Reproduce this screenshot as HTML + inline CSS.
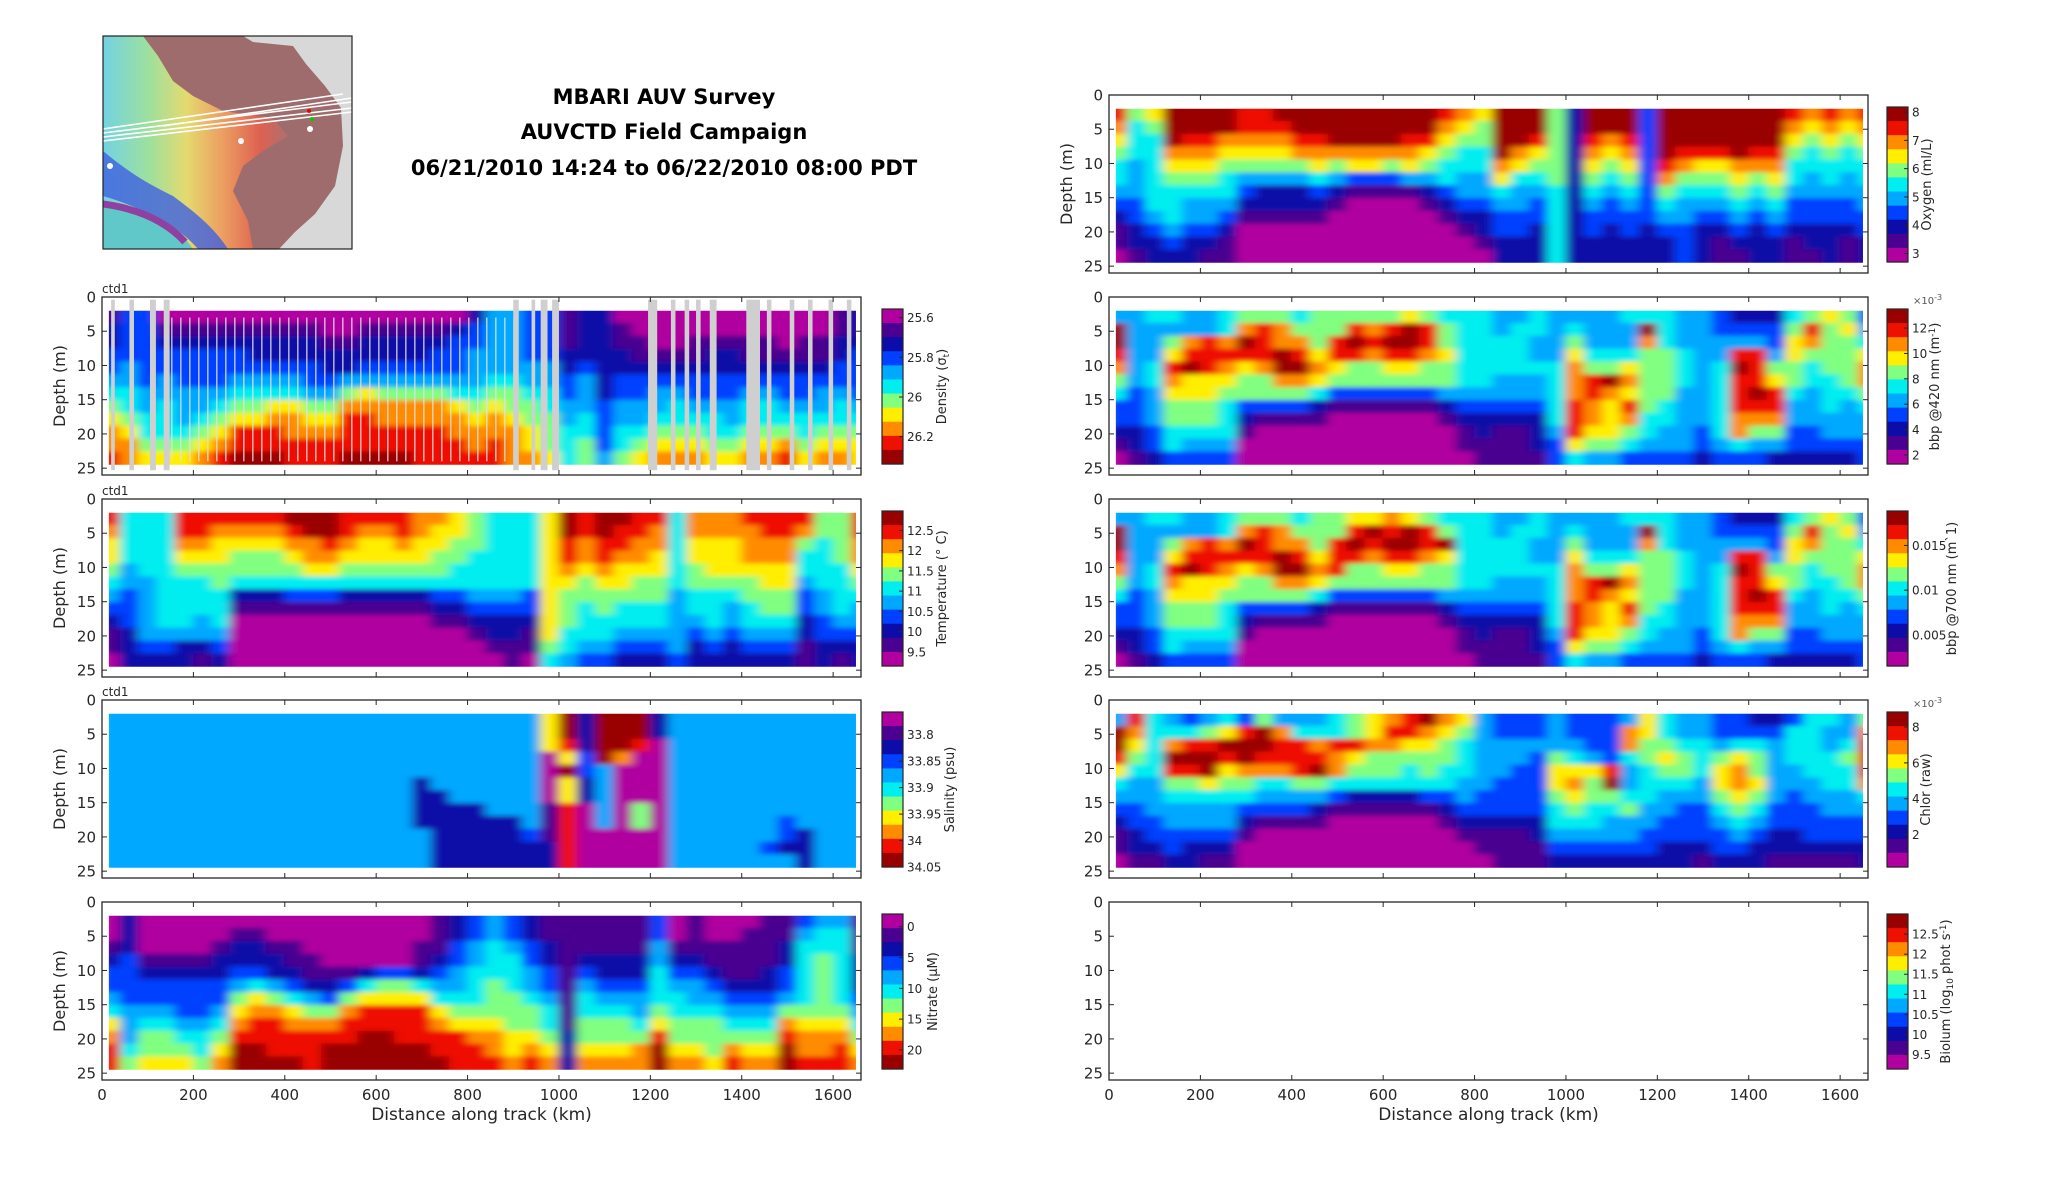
<!DOCTYPE html>
<html><head><meta charset="utf-8">
<style>
html,body{margin:0;padding:0;background:#fff;}
svg{display:block;font-family:"DejaVu Sans","Liberation Sans",sans-serif;}
</style></head>
<body>
<svg id="fig" xmlns="http://www.w3.org/2000/svg" width="2052" height="1188" viewBox="0 0 2052 1188">
  <defs>
    <linearGradient id="bathy" x1="0" y1="0" x2="1" y2="0">
      <stop offset="0" stop-color="#70d8e8"/><stop offset="0.25" stop-color="#9ee6a0"/>
      <stop offset="0.45" stop-color="#e8e070"/><stop offset="0.65" stop-color="#f0a060"/>
      <stop offset="0.85" stop-color="#e06050"/><stop offset="1" stop-color="#b07070"/>
    </linearGradient>
    <filter id="soft" x="-5%" y="-5%" width="110%" height="110%"><feGaussianBlur stdDeviation="5 2.5"/></filter>
    <pattern id="speck" width="9" height="6" patternUnits="userSpaceOnUse"><rect x="0" y="0" width="1.6" height="6" fill="#e0e0e0"/></pattern>
  </defs>
  <g>
    <svg x="103" y="36" width="249" height="213" viewBox="0 0 249 213">
      <rect width="249" height="213" fill="#d8d8d8"/>
      <path d="M0,0 L140,0 L150,6 L190,10 L203,28 L222,50 L238,72 L240,110 L232,150 L212,178 L192,196 L176,213 L0,213 Z" fill="#9e6c6c"/>
      <path d="M0,0 L40,0 L55,20 L70,45 L90,60 L120,75 L170,82 L185,100 L160,115 L140,130 L130,155 L145,185 L150,213 L0,213 Z" fill="url(#bathy)" opacity="0.95"/>
      <path d="M0,115 C30,140 50,150 70,160 C90,175 110,190 125,213 L95,213 C80,195 50,175 0,160 Z" fill="#4060e0" opacity="0.8"/>
      <path d="M0,165 C30,170 60,180 80,200 L90,213 L0,213 Z" fill="#60c8c8"/>
      <path d="M0,168 C30,172 60,182 82,206" stroke="#9040a0" stroke-width="7" fill="none"/>
      <g stroke="#fff" stroke-width="1.6" fill="none">
        <path d="M0,93 L240,58"/><path d="M0,97 L249,66"/><path d="M0,101 L249,72"/><path d="M0,105 L249,76"/><path d="M60,90 L249,62"/>
      </g>
      <circle cx="207" cy="93" r="3" fill="#fff"/><circle cx="138" cy="105" r="3" fill="#fff"/><circle cx="7" cy="130" r="3" fill="#fff"/>
      <circle cx="206" cy="75" r="2" fill="#e00"/><circle cx="209" cy="83" r="2" fill="#0c0"/>
    </svg>
    <rect x="103" y="36" width="249" height="213" fill="none" stroke="#222" stroke-width="1.2"/>
  </g>
  <g font-weight="bold" font-size="21" text-anchor="middle" fill="#000">
    <text x="664" y="104">MBARI AUV Survey</text>
    <text x="664" y="139">AUVCTD Field Campaign</text>
    <text x="664" y="175">06/21/2010 14:24 to 06/22/2010 08:00 PDT</text>
  </g>
  <g id="panels"></g>
</svg>
<script>
// ---- data (color levels 0..a per depth row, 40 km bins) ----
const binKm = 40;
const depthTop = 2;
const depthStep = 1.875;
const xTicks = [0,200,400,600,800,1000,1200,1400,1600];
const yTicks = [0,5,10,15,20,25];

const densityRows = [
"1330000000 0000000000 2443312200 0000000000 12",
"2331111111 1100111112 3443312210 0000000000 12",
"2332222222 2211222223 3443312211 0011111011 22",
"3333333322 2222222233 4443322221 1112211111 23",
"3433333333 3322333333 4444423222 2222222222 33",
"4434333444 4334444444 4554434233 3333333333 33",
"5544444555 5446766665 5665534233 4433344334 43",
"6545445667 7668888887 6766544344 4544455444 54",
"7655456778 8779988888 7876645344 5555455555 55",
"8755567999 8889999998 8887655355 6665566656 66",
"8866678999 9999999999 8987656356 7776677867 77",
"9877789aaa 999aaaa999 9988756467 8887788978 87"];
const grayStartKm = [20,60,105,135,900,940,960,985,1195,1245,1275,1300,1330,1410,1455,1505,1545,1590,1630];
const grayEndKm   = [28,70,118,148,912,948,975,1000,1215,1255,1285,1310,1345,1440,1465,1515,1555,1600,1640];

const temperatureRows = [
"9555999999 aaa9999887 65557a9aa9 9588899996 69",
"8555998888 9aa9889877 65557a9a99 8588889986 69",
"7555887777 8898778776 6555798998 8577788865 68",
"7555777666 7887777766 5555798988 7577788855 68",
"6455666666 6776666665 5555787877 7567777755 57",
"5445556555 5555555555 5555776776 6566667745 56",
"4345555222 3332222233 4443766666 6455566634 55",
"3345555111 1111111122 3333765655 5455456634 54",
"2345545000 0000000011 2222765555 5445455523 44",
"1244444000 0000000000 1221755544 4434344423 33",
"1233223000 0000000000 0111654433 3423233312 22",
"0222212000 0000000000 0010543322 2322222212 12"];

const salinityRows = [
"4444444444 4444444444 44447a2aaa 2444444444 44",
"4444444444 4444444444 44447a2aaa 2444444444 44",
"4444444444 4444444444 4444792aa9 0444444444 44",
"4444444444 4444444444 4444073a80 0444444444 44",
"4444444444 4444444444 44440a3400 0444444444 44",
"4444444444 4444444244 4444072400 0444444444 44",
"4444444444 4444444224 4444072400 0444444444 44",
"4444444444 4444444222 2444190406 0444444444 44",
"4444444444 4444444222 2224190406 0444444344 44",
"4444444444 4444444422 2223190000 0444444324 44",
"4444444444 4444444422 2222290000 0444443224 44",
"4444444444 4444444422 2222290000 0444444424 44"];

const nitrateRows = [
"0200000000 0000000012 3432111111 3010001134 41",
"0200000110 0000000012 3432111111 3010011145 51",
"1200001221 1000000113 4543211111 4111111255 51",
"2311112222 1100000123 4553212222 4221111256 52",
"3322222332 2111233234 5554313222 5332112356 52",
"3333333454 3223566544 5654314333 5443222356 52",
"4333333676 5436777755 5665415444 5544333456 53",
"5444334788 7668999976 6666515554 6555444666 64",
"7455445899 8889999987 7766516665 7666555877 75",
"8466556999 9999aa9999 8877626666 9666666988 86",
"9566657aa9 99aaaaaa99 9878727778 a776877a88 97",
"9677768aaa a9aaaaaaa9 9989828888 a887988a99 98"];

const oxygenRows = [
"967aaaa99a aaaaaaaa98 7aaa62aaa3 aaaaaaa989 89",
"856aaaa999 aaaaaaaa87 6aaa62aaa3 aaaaaaa878 78",
"755a998888 99aaaa9976 6aa9629893 aaaaaaa767 67",
"6558887777 8888888765 5a87628783 a999a99656 56",
"5457776666 6767767655 5876627673 9877888555 55",
"5456665444 4543334454 4755626563 8666767545 45",
"4455555322 2321111234 4544525453 6555656444 44",
"3355444222 2210000123 3443524343 5444545333 34",
"2345443111 1100000012 2333523333 4433434333 33",
"1234332000 0000000001 2332523232 3322323222 23",
"1223221000 0000000000 1222522222 2321222122 12",
"0122211000 0000000000 0222522222 2321122112 12"];

const bbp420Rows = [
"4455445666 5666667655 5445444455 5443222567 63",
"a444445898 666989a965 545545444a 5443333696 74",
"a44689 8a98 869a9aa965 5554464448 5444443786 65",
"944799999a 9799899875 5554475556 6544994766 67",
"8459a9878a a876677665 5555586676 6545a96656 68",
"6458777668 8766666665 5444589a86 6545997655 68",
"5347776666 6533333344 4444589876 64459a9545 56",
"3346665333 3211111123 3333598796 5445999445 45",
"3346665211 1100000012 2222598785 5445888444 44",
"2235555100 0000000001 2112497765 4435866334 44",
"1235444000 0000000001 1112376654 4434544333 33",
"0123333000 0000000000 1111354433 3323332222 23"];

const bbp700Rows = [
"4455445666 5667787655 5445444455 5443222567 63",
"a444445898 6669a9a965 545545444a 5443333696 74",
"a44689 8a98 869a9aa9a5 5554464448 5444443786 65",
"944799999a 9799899875 5554475556 6544994766 67",
"8459a9878a a896677665 5555586676 6545a96656 68",
"6458777668 8766666665 5444589a86 6545997655 68",
"5347776666 6533333344 4444589876 64459a9545 56",
"3346665333 3211111123 3333598796 5445999445 45",
"3346665211 1100000012 2222598785 5445888444 44",
"2235555100 0000000001 2112497765 4435866334 44",
"1235444000 0000000001 1112376654 4434544333 33",
"0123333000 0000000000 1111354433 3323332222 23"];

const chlorRows = [
"4954345364 4456789a87 4333433347 5443322355 46",
"a8555679a8 5556799876 4333433387 5443333554 48",
"a75899aaa9 9899887765 4444443386 6554554554 59",
"965aaa9a99 9987666665 4443654356 7656764555 69",
"75599a7888 9a86665655 4433777945 6657864455 59",
"5446676655 6655555554 4333786a45 5547874445 58",
"4445555544 4432222334 3333676655 4446764344 45",
"3344444333 3211111123 3333565564 4335653334 44",
"2334444211 1100000012 2222555444 3334543333 33",
"1233333100 0000000001 1112444443 3333432233 33",
"1223222000 0000000000 1111333333 2223322222 22",
"0112211000 0000000000 0111222222 2212221111 12"];

// colorbar ranges and ticks
const densityRange = [25.556, 26.338];   const densityTicks = [25.6,25.8,26,26.2];
const temperatureRange = [12.98, 9.15];  const temperatureTicks = [12.5,12,11.5,11,10.5,10,9.5];
const salinityRange = [33.757, 34.05];   const salinityTicks = [33.8,33.85,33.9,33.95,34,34.05];
const nitrateRange = [-2.07, 23.1];      const nitrateTicks = [0,5,10,15,20];
const oxygenRange = [8.18, 2.70];        const oxygenTicks = [8,7,6,5,4,3];
const bbp420Range = [13.5, 1.29];        const bbp420Ticks = [12,10,8,6,4,2];
const bbp700Range = [0.01885, 0.00152];  const bbp700Ticks = [0.015,0.01,0.005];
const chlorRange = [8.84, 0.19];         const chlorTicks = [8,6,4,2];
const biolumRange = [13.0, 9.14];        const biolumTicks = [12.5,12,11.5,11,10.5,10,9.5];

const palette = ['#b0009f','#4a0090','#0c0ca8','#0040ff','#00a8ff','#00eef0','#80ff80','#ffee00','#ff8c00','#ee1000','#990000'];
const KM_MAX = 1661, D_MAX = 26, PH = 178, PW = 759;
const NS = 'http://www.w3.org/2000/svg';
const root = document.getElementById('panels');

function el(tag, attrs, parent){
  const e = document.createElementNS(NS, tag);
  for (const k in attrs) e.setAttribute(k, attrs[k]);
  (parent||root).appendChild(e);
  return e;
}
function parseRows(rows){ return rows.map(r => r.replace(/\s+/g,'').split('').map(ch => parseInt(ch,16))); }

function drawPanel(p){
  const x0 = p.x0, x1 = p.x0 + PW, y0 = p.y0;
  const xs = v => x0 + v / KM_MAX * (x1 - x0);
  const ys = d => y0 + d / D_MAX * PH;
  const g = el('g', {});
  
  
  const clipId = 'clip-' + p.name;
  const cp = el('clipPath', {id: clipId}, g);
  el('rect', {x: xs(15), y: ys(depthTop), width: xs(1650) - xs(15), height: ys(24.5) - ys(depthTop)}, cp);
  if (p.rows) {
    const grid = parseRows(p.rows);
    const outer = el('g', {'clip-path': 'url(#' + clipId + ')'}, g);
    const hm = el('g', {filter: 'url(#soft)'}, outer);
    
    
    grid.forEach((row, r) => {
      row.forEach((lev, c) => {
        const rc = el('rect', {x: xs(c*binKm) - 0.5, y: ys(depthTop + r*depthStep) - (r===0?6:0.5),
          width: xs((c+1)*binKm) - xs(c*binKm) + 1, height: ys(depthTop + (r+1)*depthStep) - ys(depthTop + r*depthStep) + (r===0?6.5:1) + (r===grid.length-1?6:0),
          fill: palette[lev]}, hm);
        
        
      });
    });
    if (p.gray) {
      el('rect', {x: xs(150), y: ys(3), width: xs(900)-xs(150), height: ys(24)-ys(3), fill: 'url(#speck)', opacity: 0.75}, outer);
      grayStartKm.forEach((s, i) => {
        const gr = el('rect', {x: xs(s), y: ys(0.4), width: xs(grayEndKm[i]) - xs(s), height: ys(25.3) - ys(0.4), fill: '#cfcfcf'}, g);
        
        
      });
    }
  }
  const fr = el('rect', {x: x0, y: y0, width: x1 - x0, height: PH, fill: 'none', stroke: '#262626', 'stroke-width': 1.3}, g);
  
  
  yTicks.forEach(t => {
    const y = ys(t);
    el('line', {x1: x0, x2: x0 + 5, y1: y, y2: y, stroke: '#262626'}, g);
    el('line', {x1: x1, x2: x1 - 5, y1: y, y2: y, stroke: '#262626'}, g);
    const tl = el('text', {x: x0 - 6, y: y + 5.5, 'text-anchor': 'end', 'font-size': 15, fill: '#262626'}, g);
    tl.textContent = t;
    
    
  });
  xTicks.forEach(t => {
    const x = xs(t);
    el('line', {x1: x, x2: x, y1: y0, y2: y0 + 5, stroke: '#262626'}, g);
    el('line', {x1: x, x2: x, y1: y0 + PH, y2: y0 + PH - 5, stroke: '#262626'}, g);
    if (p.xlabels) {
      const tl = el('text', {x: x, y: y0 + PH + 20, 'text-anchor': 'middle', 'font-size': 15, fill: '#262626'}, g);
      tl.textContent = t;
      
      
    }
  });
  if (p.xlabels) {
    const xl = el('text', {x: (x0 + x1)/2, y: y0 + PH + 40, 'text-anchor': 'middle', 'font-size': 17, fill: '#262626'}, g);
    xl.textContent = 'Distance along track (km)';
    
    
  }
  if (p.ylabel) {
    const cy = y0 + PH/2, cx = x0 - 37;
    const yl = el('text', {x: cx, y: cy, 'text-anchor': 'middle', 'font-size': 16, fill: '#262626', transform: 'rotate(-90 ' + cx + ' ' + cy + ')'}, g);
    yl.textContent = 'Depth (m)';
    
    
  }
  if (p.ctd) {
    const ct = el('text', {x: x0, y: y0 - 4, 'font-size': 12, fill: '#262626'}, g);
    ct.textContent = 'ctd1';
    
    
  }
  const cbx = p.cbx, cby0 = y0 + 12, cby1 = y0 + 167;
  const cb = el('g', {}, g);
  
  
  const nSeg = palette.length;
  for (let i = 0; i < nSeg; i++) {
    const lev = p.magTop ? i : nSeg - 1 - i;
    el('rect', {x: cbx, y: cby0 + i*(cby1-cby0)/nSeg, width: 21, height: (cby1-cby0)/nSeg + 0.6, fill: palette[lev]}, cb);
  }
  el('rect', {x: cbx, y: cby0, width: 21, height: cby1 - cby0, fill: 'none', stroke: '#262626', 'stroke-width': 1.2}, cb);
  const [vTop, vBot] = p.range;
  p.ticks.forEach(t => {
    const y = cby0 + (t - vTop) / (vBot - vTop) * (cby1 - cby0);
    el('line', {x1: cbx + 21, x2: cbx + 17, y1: y, y2: y, stroke: '#262626'}, cb);
    const tl = el('text', {x: cbx + 25, y: y + 4.5, 'font-size': 12, fill: '#262626'}, cb);
    tl.textContent = t;
    
    
  });
  if (p.exp) {
    const ex = el('text', {x: cbx + 26, y: cby0 - 5, 'font-size': 10, fill: '#555'}, cb);
    ex.innerHTML = '×10<tspan dy="-4" font-size="8">-3</tspan>';
    
    
  }
  const lcy = (cby0 + cby1)/2;
  const lb = el('text', {x: p.lx, y: lcy, 'text-anchor': 'middle', 'font-size': 13, fill: '#262626', transform: 'rotate(-90 ' + p.lx + ' ' + lcy + ')'}, cb);
  lb.innerHTML = p.label;
  
  
}

const LX = 102, RX = 1109, LCB = 882, RCB = 1887;
drawPanel({name:'density', x0:LX, y0:297, rows:densityRows, gray:true, magTop:true, range:densityRange, ticks:densityTicks, cbx:LCB, lx:946, ylabel:true, ctd:true,
  label:'Density (σ<tspan dy="3" font-size="9">t</tspan><tspan dy="-3">)</tspan>'});
drawPanel({name:'temperature', x0:LX, y0:499, rows:temperatureRows, magTop:false, range:temperatureRange, ticks:temperatureTicks, cbx:LCB, lx:946, ylabel:true, ctd:true,
  label:'Temperature (° C)'});
drawPanel({name:'salinity', x0:LX, y0:700, rows:salinityRows, magTop:true, range:salinityRange, ticks:salinityTicks, cbx:LCB, lx:954, ylabel:true, ctd:true,
  label:'Salinity (psu)'});
drawPanel({name:'nitrate', x0:LX, y0:902, rows:nitrateRows, magTop:true, range:nitrateRange, ticks:nitrateTicks, cbx:LCB, lx:937, ylabel:true, xlabels:true,
  label:'Nitrate (μM)'});
drawPanel({name:'oxygen', x0:RX, y0:95, rows:oxygenRows, magTop:false, range:oxygenRange, ticks:oxygenTicks, cbx:RCB, lx:1931, ylabel:true,
  label:'Oxygen (ml/L)'});
drawPanel({name:'bbp420', x0:RX, y0:297, rows:bbp420Rows, magTop:false, range:bbp420Range, ticks:bbp420Ticks, cbx:RCB, lx:1939, exp:true,
  label:'bbp @420 nm (m<tspan dy="-4" font-size="9">-1</tspan><tspan dy="4">)</tspan>'});
drawPanel({name:'bbp700', x0:RX, y0:499, rows:bbp700Rows, magTop:false, range:bbp700Range, ticks:bbp700Ticks, cbx:RCB, lx:1956,
  label:'bbp @700 nm (m`1)'});
drawPanel({name:'chlor', x0:RX, y0:700, rows:chlorRows, magTop:false, range:chlorRange, ticks:chlorTicks, cbx:RCB, lx:1930, exp:true,
  label:'Chlor (raw)'});
drawPanel({name:'biolum', x0:RX, y0:902, rows:null, magTop:false, range:biolumRange, ticks:biolumTicks, cbx:RCB, lx:1950, xlabels:true,
  label:'Biolum (log<tspan dy="3" font-size="9">10</tspan><tspan dy="-3"> phot s</tspan><tspan dy="-4" font-size="9">-1</tspan><tspan dy="4">)</tspan>'});
</script>
</body></html>
